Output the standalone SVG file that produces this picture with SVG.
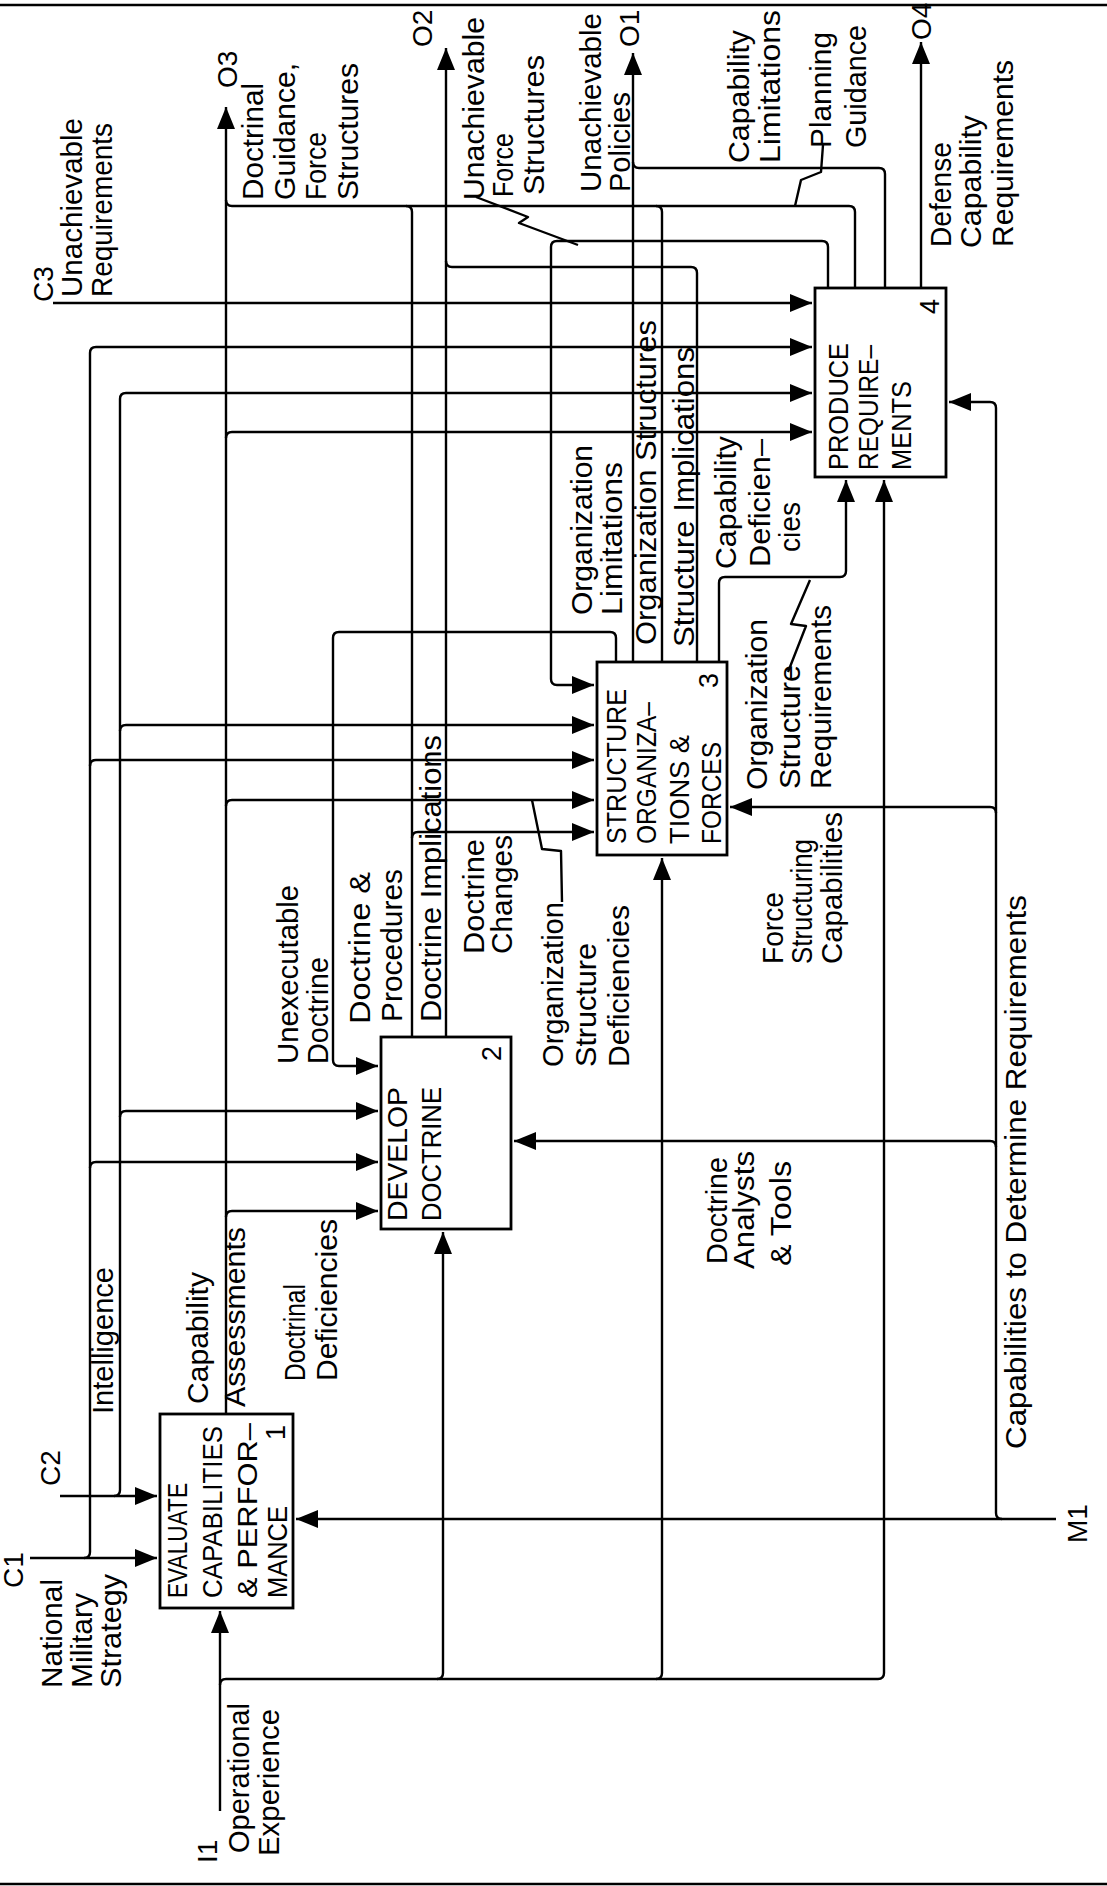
<svg xmlns="http://www.w3.org/2000/svg" width="1107" height="1886" viewBox="0 0 1107 1886">
<style>
.ln{fill:none;stroke:#000;stroke-width:2.4;stroke-linejoin:round}
.bx{fill:#fff;stroke:#000;stroke-width:2.8}
.t{font-family:"Liberation Sans",Arial,sans-serif;font-size:29px;fill:#000}
.b{font-size:27px}
.id{font-size:28px}
</style>
<defs>
<marker id="ah" viewBox="0 0 22 18" refX="22" refY="9" markerWidth="22" markerHeight="18" markerUnits="userSpaceOnUse" orient="auto"><path d="M0,0 L22,9 L0,18 Z" fill="#000"/></marker>
</defs>
<rect width="1107" height="1886" fill="#fff"/>
<g id="frame" class="ln"><path d="M0,5 H1107"/><path d="M0,1884 H1107"/></g>
<g id="connectors" class="ln">
<path d="M30,1558 H157" marker-end="url(#ah)"/>
<path d="M84,1558 Q90,1558 90,1552 V353 Q90,347 96,347 H812" marker-end="url(#ah)"/>
<path d="M90,766 Q90,760 96,760 H594" marker-end="url(#ah)"/>
<path d="M90,1168 Q90,1162 96,1162 H378" marker-end="url(#ah)"/>
<path d="M60,1496 H157" marker-end="url(#ah)"/>
<path d="M114,1496 Q120,1496 120,1490 V399 Q120,393 126,393 H812" marker-end="url(#ah)"/>
<path d="M120,731 Q120,725 126,725 H594" marker-end="url(#ah)"/>
<path d="M120,1117 Q120,1111 126,1111 H378" marker-end="url(#ah)"/>
<path d="M53,303 H812" marker-end="url(#ah)"/>
<path d="M226,1414 V107" marker-end="url(#ah)"/>
<path d="M226,1217 Q226,1211 232,1211 H378" marker-end="url(#ah)"/>
<path d="M226,806 Q226,800 232,800 H594" marker-end="url(#ah)"/>
<path d="M226,438 Q226,432 232,432 H812" marker-end="url(#ah)"/>
<path d="M855,288 V212 Q855,206 849,206 H232 Q226,206 226,200"/>
<path d="M412,1037 V212 Q412,206 406,206"/>
<path d="M412,838 Q412,832 418,832 H594" marker-end="url(#ah)"/>
<path d="M662,662 V212 Q662,206 656,206"/>
<path d="M446,1037 V48" marker-end="url(#ah)"/>
<path d="M697,662 V273 Q697,267 691,267 H452 Q446,267 446,261"/>
<path d="M633,662 V53" marker-end="url(#ah)"/>
<path d="M885,288 V174 Q885,168 879,168 H639 Q633,168 633,162"/>
<path d="M828,288 V247 Q828,241 822,241 H557 Q551,241 551,247 V679 Q551,685 557,685 H594" marker-end="url(#ah)"/>
<path d="M616,662 V638 Q616,632 610,632 H339 Q333,632 333,638 V1060 Q333,1066 339,1066 H378" marker-end="url(#ah)"/>
<path d="M719,662 V583 Q719,577 725,577 H840 Q846,577 846,571 V480" marker-end="url(#ah)"/>
<path d="M921,288 V42" marker-end="url(#ah)"/>
<path d="M1056,1519 H296" marker-end="url(#ah)"/>
<path d="M1002,1519 Q996,1519 996,1513 V408 Q996,402 990,402 H949" marker-end="url(#ah)"/>
<path d="M996,813 Q996,807 990,807 H730" marker-end="url(#ah)"/>
<path d="M996,1147 Q996,1141 990,1141 H514" marker-end="url(#ah)"/>
<path d="M220,1811 V1611" marker-end="url(#ah)"/>
<path d="M220,1685 Q220,1679 226,1679 H878 Q884,1679 884,1673 V480" marker-end="url(#ah)"/>
<path d="M437,1679 Q443,1679 443,1673 V1232" marker-end="url(#ah)"/>
<path d="M656,1679 Q662,1679 662,1673 V858" marker-end="url(#ah)"/>
<path d="M476,197 L528,217 L519,223 L578,245"/>
<path d="M823,145 L821,172 L801,180 L795,206"/>
<path d="M810,580 L791,624 L806,626 L788,672"/>
<path d="M532,800 L542,849 L561,851 L562,902"/>
</g>
<g id="node1">
<rect class="bx" x="160" y="1414" width="133" height="194"/>
<text class="t b" transform="translate(187,1598) rotate(-90)" textLength="115" lengthAdjust="spacingAndGlyphs">EVALUATE</text>
<text class="t b" transform="translate(222,1598) rotate(-90)" textLength="172" lengthAdjust="spacingAndGlyphs">CAPABILITIES</text>
<text class="t b" transform="translate(257,1598) rotate(-90)" textLength="175" lengthAdjust="spacingAndGlyphs">&amp; PERFOR–</text>
<text class="t b" transform="translate(287,1598) rotate(-90)" textLength="92" lengthAdjust="spacingAndGlyphs">MANCE</text>
<text class="t b" transform="translate(285,1440) rotate(-90)">1</text>
</g>
<g id="node2">
<rect class="bx" x="381" y="1037" width="130" height="192"/>
<text class="t b" transform="translate(407,1221) rotate(-90)" textLength="134" lengthAdjust="spacingAndGlyphs">DEVELOP</text>
<text class="t b" transform="translate(441,1221) rotate(-90)" textLength="134" lengthAdjust="spacingAndGlyphs">DOCTRINE</text>
<text class="t b" transform="translate(501,1061) rotate(-90)">2</text>
</g>
<g id="node3">
<rect class="bx" x="597" y="662" width="130" height="193"/>
<text class="t b" transform="translate(626,844) rotate(-90)" textLength="155" lengthAdjust="spacingAndGlyphs">STRUCTURE</text>
<text class="t b" transform="translate(656,844) rotate(-90)" textLength="142" lengthAdjust="spacingAndGlyphs">ORGANIZA–</text>
<text class="t b" transform="translate(689,844) rotate(-90)" textLength="109" lengthAdjust="spacingAndGlyphs">TIONS &amp;</text>
<text class="t b" transform="translate(721,844) rotate(-90)" textLength="102" lengthAdjust="spacingAndGlyphs">FORCES</text>
<text class="t b" transform="translate(718,688) rotate(-90)">3</text>
</g>
<g id="node4">
<rect class="bx" x="815" y="288" width="131" height="189"/>
<text class="t b" transform="translate(848,470) rotate(-90)" textLength="127" lengthAdjust="spacingAndGlyphs">PRODUCE</text>
<text class="t b" transform="translate(878,470) rotate(-90)" textLength="125" lengthAdjust="spacingAndGlyphs">REQUIRE–</text>
<text class="t b" transform="translate(911,470) rotate(-90)" textLength="89" lengthAdjust="spacingAndGlyphs">MENTS</text>
<text class="t b" transform="translate(939,314) rotate(-90)">4</text>
</g>
<g id="labels">
<text class="t id" transform="translate(53,302) rotate(-90)">C3</text>
<text class="t" transform="translate(82,297) rotate(-90)" textLength="179" lengthAdjust="spacingAndGlyphs">Unachievable</text>
<text class="t" transform="translate(112,297) rotate(-90)" textLength="174" lengthAdjust="spacingAndGlyphs">Requirements</text>
<text class="t id" transform="translate(237,88) rotate(-90)">O3</text>
<text class="t" transform="translate(263,200) rotate(-90)" textLength="117" lengthAdjust="spacingAndGlyphs">Doctrinal</text>
<text class="t" transform="translate(295,200) rotate(-90)" textLength="137" lengthAdjust="spacingAndGlyphs">Guidance,</text>
<text class="t" transform="translate(326,200) rotate(-90)" textLength="68" lengthAdjust="spacingAndGlyphs">Force</text>
<text class="t" transform="translate(358,200) rotate(-90)" textLength="137" lengthAdjust="spacingAndGlyphs">Structures</text>
<text class="t id" transform="translate(432,47) rotate(-90)">O2</text>
<text class="t" transform="translate(484,200) rotate(-90)" textLength="183" lengthAdjust="spacingAndGlyphs">Unachievable</text>
<text class="t" transform="translate(513,197) rotate(-90)" textLength="64" lengthAdjust="spacingAndGlyphs">Force</text>
<text class="t" transform="translate(544,195) rotate(-90)" textLength="140" lengthAdjust="spacingAndGlyphs">Structures</text>
<text class="t" transform="translate(601,192) rotate(-90)" textLength="179" lengthAdjust="spacingAndGlyphs">Unachievable</text>
<text class="t" transform="translate(630,192) rotate(-90)" textLength="100" lengthAdjust="spacingAndGlyphs">Policies</text>
<text class="t id" transform="translate(639,47) rotate(-90)">O1</text>
<text class="t" transform="translate(749,163) rotate(-90)" textLength="133" lengthAdjust="spacingAndGlyphs">Capability</text>
<text class="t" transform="translate(780,163) rotate(-90)" textLength="153" lengthAdjust="spacingAndGlyphs">Limitations</text>
<text class="t" transform="translate(831,148) rotate(-90)" textLength="116" lengthAdjust="spacingAndGlyphs">Planning</text>
<text class="t" transform="translate(866,148) rotate(-90)" textLength="123" lengthAdjust="spacingAndGlyphs">Guidance</text>
<text class="t id" transform="translate(931,40) rotate(-90)">O4</text>
<text class="t" transform="translate(951,247) rotate(-90)" textLength="105" lengthAdjust="spacingAndGlyphs">Defense</text>
<text class="t" transform="translate(981,248) rotate(-90)" textLength="133" lengthAdjust="spacingAndGlyphs">Capability</text>
<text class="t" transform="translate(1013,247) rotate(-90)" textLength="187" lengthAdjust="spacingAndGlyphs">Requirements</text>
<text class="t" transform="translate(592,615) rotate(-90)" textLength="170" lengthAdjust="spacingAndGlyphs">Organization</text>
<text class="t" transform="translate(622,615) rotate(-90)" textLength="153" lengthAdjust="spacingAndGlyphs">Limitations</text>
<text class="t" transform="translate(656,645) rotate(-90)" textLength="325" lengthAdjust="spacingAndGlyphs">Organization Structures</text>
<text class="t" transform="translate(694,647) rotate(-90)" textLength="300" lengthAdjust="spacingAndGlyphs">Structure Implications</text>
<text class="t" transform="translate(736,569) rotate(-90)" textLength="133" lengthAdjust="spacingAndGlyphs">Capability</text>
<text class="t" transform="translate(770,567) rotate(-90)" textLength="128" lengthAdjust="spacingAndGlyphs">Deficien–</text>
<text class="t" transform="translate(800,552) rotate(-90)" textLength="50" lengthAdjust="spacingAndGlyphs">cies</text>
<text class="t" transform="translate(767,790) rotate(-90)" textLength="171" lengthAdjust="spacingAndGlyphs">Organization</text>
<text class="t" transform="translate(800,789) rotate(-90)" textLength="124" lengthAdjust="spacingAndGlyphs">Structure</text>
<text class="t" transform="translate(831,789) rotate(-90)" textLength="184" lengthAdjust="spacingAndGlyphs">Requirements</text>
<text class="t" transform="translate(783,964) rotate(-90)" textLength="72" lengthAdjust="spacingAndGlyphs">Force</text>
<text class="t" transform="translate(812,964) rotate(-90)" textLength="125" lengthAdjust="spacingAndGlyphs">Structuring</text>
<text class="t" transform="translate(842,964) rotate(-90)" textLength="152" lengthAdjust="spacingAndGlyphs">Capabilities</text>
<text class="t" transform="translate(1026,1449) rotate(-90)" textLength="554" lengthAdjust="spacingAndGlyphs">Capabilities to Determine Requirements</text>
<text class="t" transform="translate(727,1264) rotate(-90)" textLength="107" lengthAdjust="spacingAndGlyphs">Doctrine</text>
<text class="t" transform="translate(754,1269) rotate(-90)" textLength="118" lengthAdjust="spacingAndGlyphs">Analysts</text>
<text class="t" transform="translate(791,1266) rotate(-90)" textLength="105" lengthAdjust="spacingAndGlyphs">&amp; Tools</text>
<text class="t id" transform="translate(1087,1543) rotate(-90)">M1</text>
<text class="t" transform="translate(563,1067) rotate(-90)" textLength="165" lengthAdjust="spacingAndGlyphs">Organization</text>
<text class="t" transform="translate(596,1067) rotate(-90)" textLength="124" lengthAdjust="spacingAndGlyphs">Structure</text>
<text class="t" transform="translate(629,1067) rotate(-90)" textLength="162" lengthAdjust="spacingAndGlyphs">Deficiencies</text>
<text class="t" transform="translate(484,954) rotate(-90)" textLength="115" lengthAdjust="spacingAndGlyphs">Doctrine</text>
<text class="t" transform="translate(512,954) rotate(-90)" textLength="119" lengthAdjust="spacingAndGlyphs">Changes</text>
<text class="t" transform="translate(441,1022) rotate(-90)" textLength="287" lengthAdjust="spacingAndGlyphs">Doctrine Implications</text>
<text class="t" transform="translate(370,1024) rotate(-90)" textLength="152" lengthAdjust="spacingAndGlyphs">Doctrine &amp;</text>
<text class="t" transform="translate(402,1022) rotate(-90)" textLength="153" lengthAdjust="spacingAndGlyphs">Procedures</text>
<text class="t" transform="translate(298,1064) rotate(-90)" textLength="179" lengthAdjust="spacingAndGlyphs">Unexecutable</text>
<text class="t" transform="translate(328,1064) rotate(-90)" textLength="107" lengthAdjust="spacingAndGlyphs">Doctrine</text>
<text class="t" transform="translate(113,1414) rotate(-90)" textLength="147" lengthAdjust="spacingAndGlyphs">Intelligence</text>
<text class="t" transform="translate(208,1404) rotate(-90)" textLength="132" lengthAdjust="spacingAndGlyphs">Capability</text>
<text class="t" transform="translate(245,1407) rotate(-90)" textLength="180" lengthAdjust="spacingAndGlyphs">Assessments</text>
<text class="t" transform="translate(305,1381) rotate(-90)" textLength="97" lengthAdjust="spacingAndGlyphs">Doctrinal</text>
<text class="t" transform="translate(337,1381) rotate(-90)" textLength="162" lengthAdjust="spacingAndGlyphs">Deficiencies</text>
<text class="t id" transform="translate(60,1486) rotate(-90)">C2</text>
<text class="t id" transform="translate(23,1588) rotate(-90)">C1</text>
<text class="t" transform="translate(62,1688) rotate(-90)" textLength="109" lengthAdjust="spacingAndGlyphs">National</text>
<text class="t" transform="translate(92,1688) rotate(-90)" textLength="95" lengthAdjust="spacingAndGlyphs">Military</text>
<text class="t" transform="translate(121,1688) rotate(-90)" textLength="114" lengthAdjust="spacingAndGlyphs">Strategy</text>
<text class="t id" transform="translate(217,1863) rotate(-90)">I1</text>
<text class="t" transform="translate(249,1853) rotate(-90)" textLength="150" lengthAdjust="spacingAndGlyphs">Operational</text>
<text class="t" transform="translate(279,1856) rotate(-90)" textLength="147" lengthAdjust="spacingAndGlyphs">Experience</text>
</g>
</svg>
